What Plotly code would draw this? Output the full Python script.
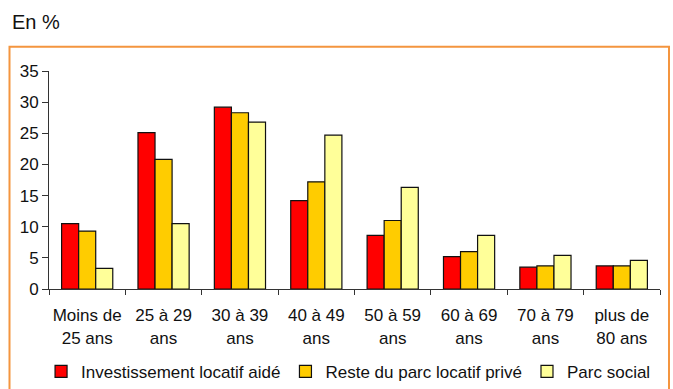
import plotly.graph_objects as go

categories = ["Moins de<br>25 ans", "25 à 29<br>ans", "30 à 39<br>ans", "40 à 49<br>ans",
              "50 à 59<br>ans", "60 à 69<br>ans", "70 à 79<br>ans", "plus de<br>80 ans"]
investissement = [10.5, 25.1, 29.2, 14.2, 8.6, 5.2, 3.5, 3.7]
reste_prive = [9.3, 20.8, 28.3, 17.2, 11.0, 6.0, 3.7, 3.7]
parc_social = [3.3, 10.5, 26.8, 24.7, 16.3, 8.6, 5.4, 4.6]
y_ticks = [0, 5, 10, 15, 20, 25, 30, 35]

FONT = "Liberation Sans, Arial, sans-serif"

fig = go.Figure()
for name, vals, col in [("Investissement locatif aidé", investissement, "#FF0000"),
                        ("Reste du parc locatif privé", reste_prive, "#FFCC00"),
                        ("Parc social", parc_social, "#FFFF99")]:
    fig.add_trace(go.Bar(x=categories, y=vals, name=name,
                         marker=dict(color=col, line=dict(color="#111111", width=1.2))))

fig.update_layout(
    width=673, height=389,
    margin=dict(l=49, r=13, t=71, b=100, autoexpand=False),
    paper_bgcolor="white", plot_bgcolor="white",
    barmode="group", bargap=0.33, bargroupgap=0,
    font=dict(family=FONT, size=17, color="#111111"),
    showlegend=True,
    legend=dict(orientation="h", x=-0.013, xanchor="left", y=-0.38, yanchor="middle",
                font=dict(family=FONT, size=17),
                traceorder="normal", bgcolor="rgba(0,0,0,0)"),
    xaxis=dict(showline=True, linecolor="#333333", linewidth=1, ticks="outside",
               tickson="boundaries", ticklen=5, tickcolor="#333333", automargin=False,
               tickangle=0, showgrid=False, ticklabelstandoff=11, tickfont=dict(size=17)),
    yaxis=dict(range=[0, 35], tickvals=y_ticks, showline=True, linecolor="#333333",
               linewidth=1, ticks="outside", ticklen=6, tickcolor="#333333", automargin=False,
               showgrid=False, zeroline=False, tickfont=dict(size=17)),
    annotations=[dict(text="En %", xref="paper", yref="paper", x=(10-49)/611, xanchor="left",
                      y=(289-22)/218, yanchor="middle", showarrow=False,
                      font=dict(family=FONT, size=20, color="#111111"))],
    shapes=[dict(type="rect", xref="paper", yref="paper",
                 x0=(9.5-49)/611, x1=(669-49)/611, y0=-0.7, y1=(289-46.7)/218,
                 line=dict(color="#F4953F", width=2), layer="below")],
)

fig.write_html("out.html", config={"displayModeBar": False},
               post_script="document.body.style.margin='0px';document.body.style.overflow='hidden';")
